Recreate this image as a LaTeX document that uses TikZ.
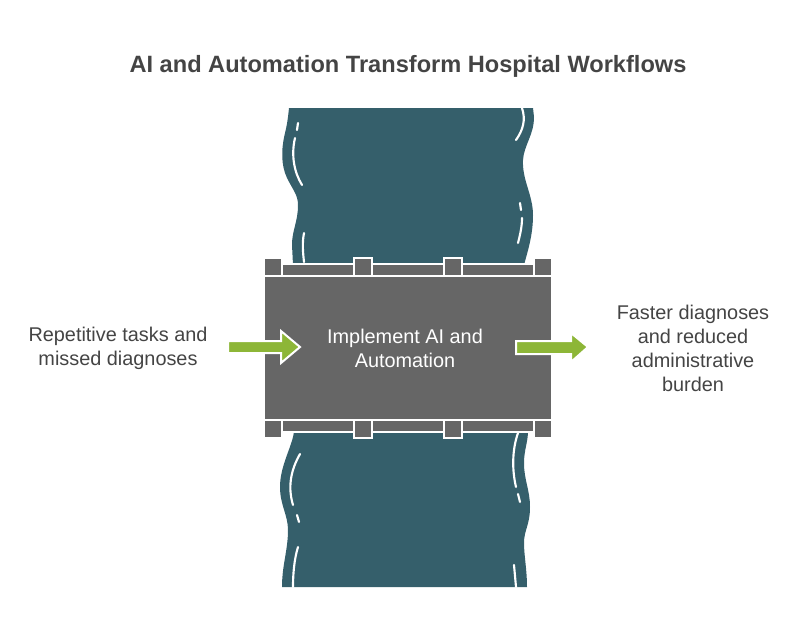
\documentclass[tikz,border=0pt]{standalone}
\usepackage{fontspec}
\setmainfont{Liberation Sans}
\definecolor{river}{HTML}{355F6B}
\definecolor{dam}{HTML}{666666}
\definecolor{flow}{HTML}{8DB637}
\definecolor{ink}{HTML}{444444}

\begin{document}
\begin{tikzpicture}[
x=0.75pt, y=-0.75pt,
water/.style={fill=river, draw=none},
ripple/.style={draw=white, line width=1.6pt, line cap=round},
block/.style={fill=dam, draw=none},
plate/.style={fill=dam, draw=white, line width=1.5pt},
flowarrow/.style={fill=flow, draw=white, line width=1.5pt, line join=miter},
label/.style={text=ink, font=\fontsize{14.9}{18}\selectfont, align=center, inner sep=0pt},
title/.style={text=ink, font=\fontsize{17.7}{22}\selectfont\bfseries, inner sep=0pt}
]
\useasboundingbox (0,0) rectangle (804,637);

%River
\draw[water] (289,108) .. controls (288,118) and (287,125) .. (285,133)
  .. controls (281,150) and (281,165) .. (287,178)
  .. controls (293,190) and (298,195) .. (298,205)
  .. controls (298,222) and (292,230) .. (292,245)
  -- (293,265) -- (524,265) .. controls (528,250) and (533,235) .. (533,215)
  .. controls (533,195) and (522,180) .. (523,160)
  .. controls (524,145) and (534,135) .. (534,117)
  -- (533,108) -- cycle;
\draw[water] (294,431) .. controls (293,445) and (280,465) .. (280,487)
  .. controls (280,505) and (288,515) .. (288,530)
  .. controls (288,550) and (282,565) .. (282,587)
  -- (527,587) .. controls (527,570) and (524,555) .. (524,543)
  .. controls (524,530) and (530,525) .. (530,507)
  .. controls (530,490) and (524,480) .. (524,463)
  .. controls (524,450) and (528,442) .. (528,431) -- cycle;

%Ripples
\draw[ripple] (298,123) -- (297,130);
\draw[ripple] (295,138) .. controls (291,155) and (294,172) .. (302,185);
\draw[ripple] (304,233) .. controls (302,243) and (303,253) .. (304,262);
\draw[ripple] (522,108) .. controls (526,120) and (523,130) .. (516,140);
\draw[ripple] (520,203) -- (521,210);
\draw[ripple] (522,218) .. controls (522,227) and (520,235) .. (518,243);
\draw[ripple] (300,454) .. controls (292,468) and (287,485) .. (293,505);
\draw[ripple] (297,515) -- (299,522);
\draw[ripple] (298,547) .. controls (294,560) and (293,575) .. (293,587);
\draw[ripple] (518,433) .. controls (512,450) and (512,470) .. (516,487);
\draw[ripple] (518,494) -- (520,502);
\draw[ripple] (514,565) -- (516,587);

%Dam
\fill[block] (265,277) rectangle (551,419);
\fill[block] (265,259) rectangle (281,275);
\fill[block] (535,259) rectangle (551,275);
\fill[block] (265,421) rectangle (281,437);
\fill[block] (535,421) rectangle (551,437);
\draw[plate] (282,264) rectangle (534,276);
\draw[plate] (354,258) rectangle (372,276);
\draw[plate] (444,258) rectangle (462,276);
\draw[plate] (282,420) rectangle (534,432);
\draw[plate] (354,420) rectangle (372,438);
\draw[plate] (444,420) rectangle (462,438);

%Arrows
\draw[flowarrow] (228,341) -- (281,341) -- (281,331) -- (300,347) -- (281,363) -- (281,353) -- (228,353) -- cycle;
\draw[flowarrow] (516,341) -- (571,341) -- (571,333) -- (588,347) -- (571,362) -- (571,354) -- (516,354) -- cycle;

%Nodes
\node[title] (Title) at (408,66) {AI and Automation Transform Hospital Workflows};
\node[label] (Problem) at (118,348) {Repetitive tasks and\\missed diagnoses};
\node[label, text=white] (Action) at (405,348) {Implement AI and\\Automation};
\node[label] (Result) at (693,348) {Faster diagnoses\\and reduced\\administrative\\burden};
\end{tikzpicture}
\end{document}
